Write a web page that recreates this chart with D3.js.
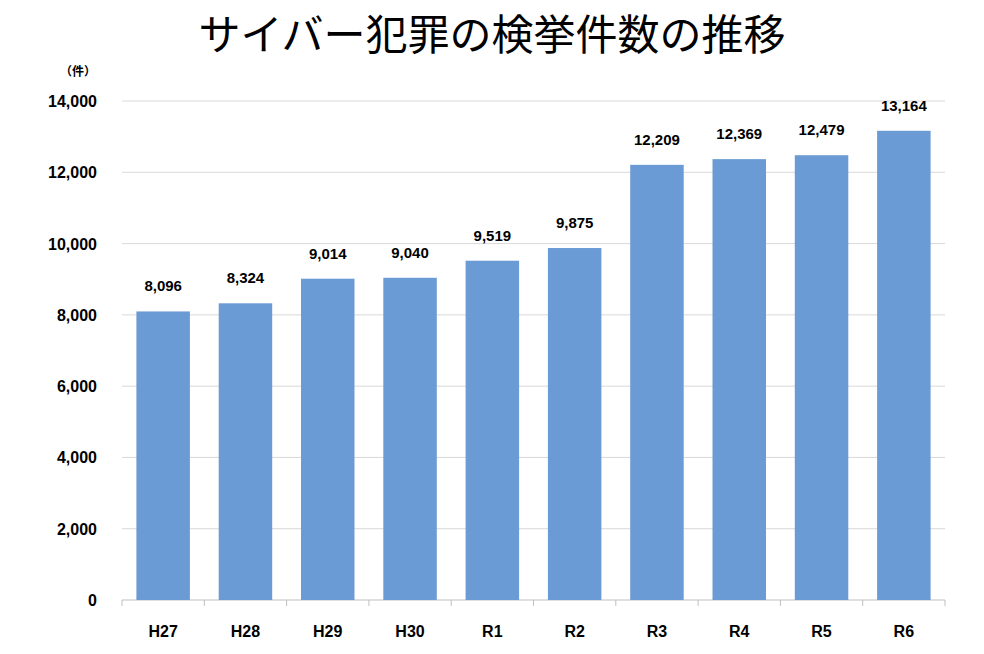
<!DOCTYPE html>
<html><head><meta charset="utf-8">
<script src="https://cdn.jsdelivr.net/npm/d3@7"></script>
<style>body{margin:0;background:#fff}text{font-family:"Liberation Sans","Noto Sans CJK JP",sans-serif}</style>
</head><body><svg id="c" width="984" height="654"></svg>
<script>
const categories=["H27","H28","H29","H30","R1","R2","R3","R4","R5","R6"];
const values=[8096,8324,9014,9040,9519,9875,12209,12369,12479,13164];
const yTicks=[0,2000,4000,6000,8000,10000,12000,14000];
const title="サイバー犯罪の検挙件数の推移";
const unit="（件）";

const svg=d3.select("#c");
const L=122,R=945,T=101,B=600;
const x=d3.scaleBand().domain(categories).range([L,R]).paddingInner(0.35).paddingOuter(0.175);
const y=d3.scaleLinear().domain([0,14000]).range([B,T]);

svg.append("text").attr("x",492).attr("y",50).attr("text-anchor","middle")
 .attr("font-size",42).attr("font-family","Noto Sans CJK JP").attr("font-weight",400).text(title);
svg.append("text").attr("x",78).attr("y",76).attr("text-anchor","middle").attr("font-size",12)
 .attr("font-weight","bold").attr("font-family","Noto Sans CJK JP").text(unit);

svg.append("g").selectAll("line").data(yTicks.slice(1)).join("line")
 .attr("x1",L).attr("x2",R).attr("y1",d=>y(d)).attr("y2",d=>y(d)).attr("stroke","#d9d9d9");
svg.append("line").attr("x1",L).attr("x2",R).attr("y1",B).attr("y2",B).attr("stroke","#bfbfbf");
svg.append("g").selectAll("line").data(d3.range(categories.length+1)).join("line")
 .attr("x1",d=>L+d*x.step()).attr("x2",d=>L+d*x.step()).attr("y1",B).attr("y2",B+6).attr("stroke","#bfbfbf");

svg.append("g").selectAll("text").data(yTicks).join("text")
 .attr("x",97).attr("y",d=>y(d)+6).attr("text-anchor","end").attr("font-size",16).attr("font-weight","bold")
 .text(d3.format(","));

svg.append("g").selectAll("rect").data(values).join("rect")
 .attr("x",(d,i)=>x(categories[i])).attr("width",x.bandwidth())
 .attr("y",d=>y(d)).attr("height",d=>B-y(d)).attr("fill","#6b9bd4");

svg.append("g").selectAll("text").data(values).join("text")
 .attr("x",(d,i)=>x(categories[i])+x.bandwidth()/2).attr("y",d=>y(d)-20)
 .attr("text-anchor","middle").attr("font-size",15).attr("font-weight","bold").text(d3.format(","));

svg.append("g").selectAll("text").data(categories).join("text")
 .attr("x",d=>x(d)+x.bandwidth()/2).attr("y",637).attr("text-anchor","middle")
 .attr("font-size",16).attr("font-weight","bold").text(d=>d);
</script></body></html>
